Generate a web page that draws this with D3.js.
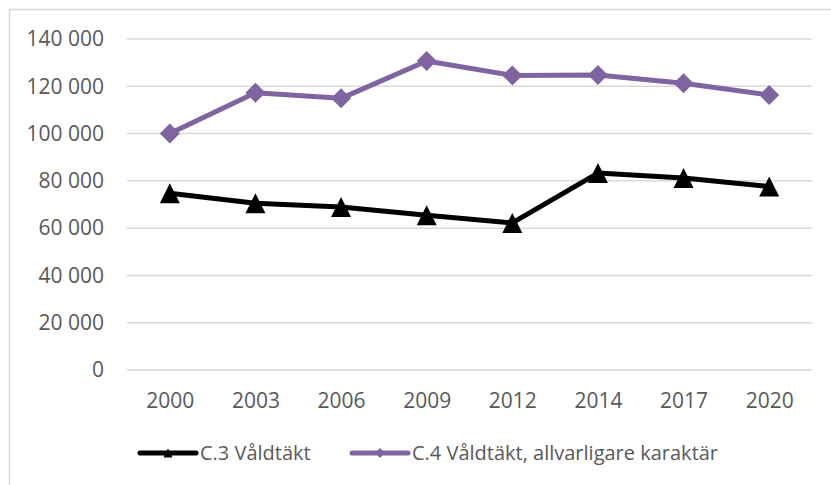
<!DOCTYPE html>
<html>
<head>
<meta charset="utf-8">
<script src="https://cdn.jsdelivr.net/npm/d3@7"></script>
<style>
  body { margin: 0; background: #fff; }
  text { font-family: "Open Sans", sans-serif; fill: #595959; }
</style>
</head>
<body>
<div id="main"></div>
<script>
var years = ["2000", "2003", "2006", "2009", "2012", "2014", "2017", "2020"];
var c3 = [74800, 70500, 68900, 65500, 62200, 83300, 81200, 77600];
var c4 = [100000, 117300, 114900, 130700, 124600, 124800, 121300, 116300];
var yTicks = [0, 20000, 40000, 60000, 80000, 100000, 120000, 140000];
var seriesNames = ["C.3 Våldtäkt", "C.4 Våldtäkt, allvarligare karaktär"];

var width = 831, height = 485;
var plot = {left: 127, right: 812, top: 39, bottom: 370};

var svLocale = d3.formatLocale({decimal: ",", thousands: " ", grouping: [3], currency: ["", " kr"]});
var fmt = svLocale.format(",");

var svg = d3.select("#main").append("svg")
    .attr("width", width)
    .attr("height", height);

// outer chart frame, cut off on the right and bottom like the picture
svg.append("rect")
    .attr("x", 9.5).attr("y", 9.5)
    .attr("width", 1000).attr("height", 1000)
    .attr("fill", "none")
    .attr("stroke", "#d9d9d9")
    .attr("stroke-width", 1.5);

var x = d3.scalePoint()
    .domain(years)
    .range([plot.left, plot.right])
    .padding(0.5);

var y = d3.scaleLinear()
    .domain([0, 140000])
    .range([plot.bottom, plot.top]);

// gridlines
svg.append("g").selectAll("line")
    .data(yTicks)
    .enter().append("line")
    .attr("x1", plot.left).attr("x2", plot.right)
    .attr("y1", function(d){ return y(d); })
    .attr("y2", function(d){ return y(d); })
    .attr("stroke", "#d9d9d9")
    .attr("stroke-width", 1.5);

var yAxis = d3.axisLeft(y)
    .tickValues(yTicks)
    .tickFormat(fmt)
    .tickSize(0)
    .tickPadding(23);

var xAxis = d3.axisBottom(x)
    .tickSize(0)
    .tickPadding(23);

svg.append("g")
    .attr("transform", "translate(" + plot.left + ",0)")
    .call(yAxis)
    .call(function(g){ g.select(".domain").remove(); })
    .selectAll("text")
    .style("font-family", "'Open Sans', sans-serif")
    .style("font-size", "21px")
    .attr("fill", "#595959");

svg.append("g")
    .attr("transform", "translate(0," + plot.bottom + ")")
    .call(xAxis)
    .call(function(g){ g.select(".domain").remove(); })
    .selectAll("text")
    .style("font-family", "'Open Sans', sans-serif")
    .style("font-size", "21px")
    .attr("fill", "#595959");

var line = d3.line()
    .x(function(d, i){ return x(years[i]); })
    .y(function(d){ return y(d); });

var triangle = function(s){ return "M0," + (-s) + "L" + s + "," + s + "L" + (-s) + "," + s + "Z"; };
var diamond = function(s){ return "M0," + (-s) + "L" + s + ",0L0," + s + "L" + (-s) + ",0Z"; };

var series = [
  {name: seriesNames[0], values: c3, color: "#000000", marker: triangle, size: 10, small: 4.5},
  {name: seriesNames[1], values: c4, color: "#8064a2", marker: diamond, size: 10, small: 5}
];

series.forEach(function(s){
  svg.append("path")
      .datum(s.values)
      .attr("d", line)
      .attr("fill", "none")
      .attr("stroke", s.color)
      .attr("stroke-width", 5)
      .attr("stroke-linejoin", "round");

  svg.append("g").selectAll("path")
      .data(s.values)
      .enter().append("path")
      .attr("transform", function(d, i){ return "translate(" + x(years[i]) + "," + y(d) + ")"; })
      .attr("d", s.marker(s.size))
      .attr("fill", s.color);
});

// legend
var legendX = [140, 352];
var legend = svg.append("g").selectAll("g")
    .data(series)
    .enter().append("g")
    .attr("transform", function(d, i){ return "translate(" + legendX[i] + ",453)"; });

legend.append("line")
    .attr("x1", 0).attr("x2", 56)
    .attr("stroke", function(d){ return d.color; })
    .attr("stroke-width", 5)
    .attr("stroke-linecap", "round");

legend.append("path")
    .attr("transform", "translate(28,0)")
    .attr("d", function(d){ return d.marker(d.small); })
    .attr("fill", function(d){ return d.color; });

legend.append("text")
    .attr("x", 60)
    .attr("y", 7)
    .style("font-size", "20px")
    .text(function(d){ return d.name; });
</script>
</body>
</html>
